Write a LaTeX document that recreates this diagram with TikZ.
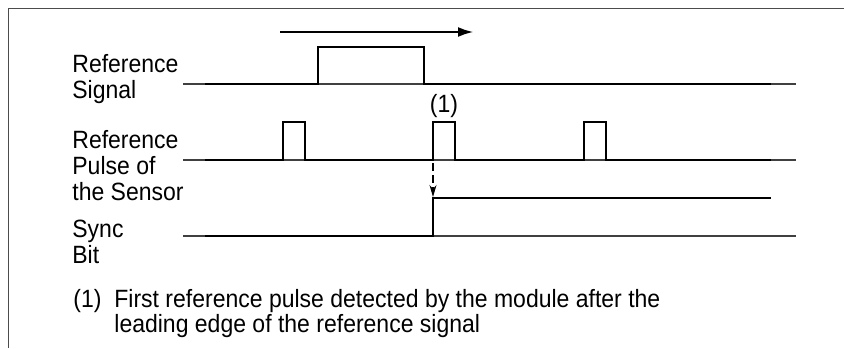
\documentclass[tikz,border=0pt]{standalone}
\usepackage{fontspec}
\setmainfont{Liberation Sans}[FakeStretch=0.92]
\usetikzlibrary{arrows.meta}
\begin{document}
\begin{tikzpicture}[x=0.5pt,y=-0.5pt,
  lbl/.style={anchor=base west,inner sep=0pt,font=\fontsize{12.5pt}{13pt}\selectfont},
  thin/.style={line width=0.6pt,black!75},
  sig/.style={line width=1.4pt,black},
  frame/.style={line width=0.8pt,black!70}]
\useasboundingbox (0,0) rectangle (844,348);
% frame
\draw[frame] (844,8.5) -- (8.5,8.5) -- (8.5,348);
% direction arrow
\draw[sig,-{Latex[length=8pt,width=5pt]}] (280,32) -- (474,32);
% labels
\node[lbl] (l1a) at (72,72) {Reference};
\node[lbl] (l1b) at (72,98) {Signal};
\node[lbl] (l2a) at (72,148) {Reference};
\node[lbl] (l2b) at (72,174) {Pulse of};
\node[lbl] (l2c) at (72,200) {the Sensor};
\node[lbl] (l3a) at (72,237) {Sync};
\node[lbl] (l3b) at (72,263) {Bit};
% reference signal
\draw[thin] (183,84) -- (796,84);
\draw[sig,line join=miter] (205,84) -- (318,84) -- (318,47) -- (424,47) -- (424,84) -- (771,84);
% reference pulses
\draw[thin] (183,160) -- (796,160);
\draw[sig,line join=miter] (205,160) -- (283,160) -- (283,122) -- (305,122) -- (305,160)
  -- (433,160) -- (433,122) -- (455,122) -- (455,160)
  -- (584,160) -- (584,122) -- (606,122) -- (606,160) -- (771,160);
\node[lbl,anchor=base] (n1) at (444,112) {(1)};
% sync bit
\draw[thin] (183,236) -- (796,236);
\draw[sig,line join=miter] (205,236) -- (433,236) -- (433,198) -- (771,198);
\coordinate (a1) at (433,163);
\coordinate (a2) at (433,197);
\draw[line width=0.6pt,dash pattern=on 4pt off 2pt,-{Stealth[length=6pt,width=3.5pt]}] (a1) -- (a2);
% footnote
\node[lbl] (f1) at (73,307) {(1)};
\node[lbl] (f2) at (114,307) {First reference pulse detected by the module after the};
\node[lbl] (f3) at (114,332) {leading edge of the reference signal};
\end{tikzpicture}
\end{document}
